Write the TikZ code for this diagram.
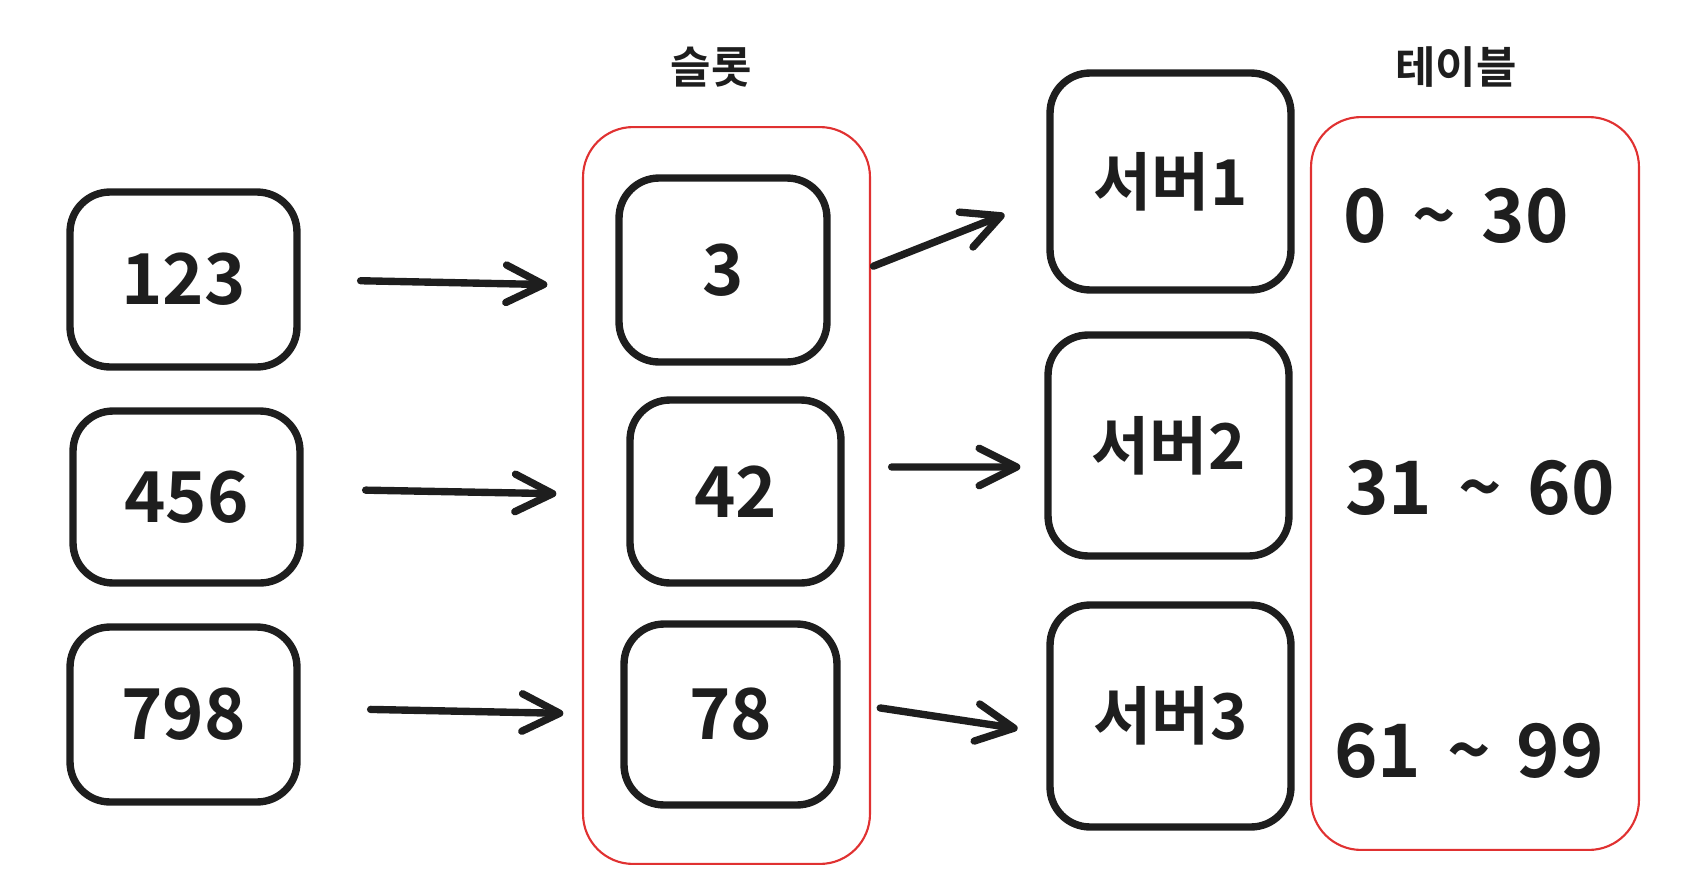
\documentclass[tikz,border=0pt]{standalone}
\usepackage{fontspec}
\setmainfont{Noto Sans CJK KR}[BoldFont={Noto Sans CJK KR Bold}]
\usetikzlibrary{arrows.meta}
\usetikzlibrary{positioning}
\definecolor{ink}{HTML}{1E1E1E}
\definecolor{redline}{HTML}{E03131}

\tikzset{
  box/.style={draw=ink, line width=4.2pt, rounded corners=0.8cm, text=ink},
  frame/.style={draw=redline, line width=1.2pt, rounded corners=1cm},
  num/.style={font=\fontsize{40}{48}\selectfont\bfseries},
  srv/.style={font=\fontsize{36}{42}\selectfont\bfseries},
  caption/.style={text=ink, font=\fontsize{25}{30}\selectfont\bfseries},
  rangetxt/.style={text=ink, font=\fontsize{42}{50}\selectfont\bfseries},
  arr/.style={draw=ink, line width=4.2pt, line cap=round,
    -{Straight Barb[length=0.75cm,width=0.75cm,line cap=round,round]}}
}

\begin{document}
\begin{tikzpicture}[x=0.02cm, y=-0.02cm]
\useasboundingbox (0,0) rectangle (1694,892);

% keys
\node[box, num, minimum width=4.54cm, minimum height=3.5cm] (b123) at (183.5,279.5) {123};
\node[box, num, minimum width=4.54cm, minimum height=3.44cm] (b456) at (186.5,497) {456};
\node[box, num, minimum width=4.54cm, minimum height=3.5cm] (b798) at (183.5,714.5) {798};

% slots
\node[frame, minimum width=5.74cm, minimum height=14.74cm] (slots) at (726.5,495.5) {};
\node[caption] (slotlbl) at (711,67) {슬롯};
\node[box, num, minimum width=4.16cm, minimum height=3.68cm] (s3) at (723,270) {3};
\node[box, num, minimum width=4.22cm, minimum height=3.66cm] (s42) at (735.5,491.5) {42};
\node[box, num, minimum width=4.26cm, minimum height=3.62cm] (s78) at (730.5,714.5) {78};

% servers
\node[box, srv, minimum width=4.82cm, minimum height=4.34cm] (sv1) at (1170.5,181.5) {서버1};
\node[box, srv, minimum width=4.82cm, minimum height=4.42cm] (sv2) at (1168.5,445.5) {서버2};
\node[box, srv, minimum width=4.82cm, minimum height=4.44cm] (sv3) at (1170.5,716) {서버3};

% table
\node[frame, minimum width=6.56cm, minimum height=14.66cm] (table) at (1475,483.5) {};
\node[caption] (tablelbl) at (1456,67) {테이블};
\node[rangetxt] (r1) at (1456,216) {0\hspace{0.35em}\textasciitilde\hspace{0.35em}30};
\node[rangetxt] (r2) at (1480,488) {31\hspace{0.35em}\textasciitilde\hspace{0.35em}60};
\node[rangetxt] (r3) at (1469,751) {61\hspace{0.35em}\textasciitilde\hspace{0.35em}99};

% arrows
\draw[arr, shorten <=1.2cm, shorten >=1.36cm] (b123.east) -- ([yshift=-0.32cm]s3.west);
\draw[arr, shorten <=1.24cm, shorten >=1.4cm] ([yshift=0.16cm]b456.east) -- ([yshift=-0.07cm]s42.west);
\draw[arr, shorten <=1.4cm, shorten >=1.14cm] ([yshift=0.13cm]b798.east) -- (s78.west);
\draw[arr, shorten <=0.92cm, shorten >=0.9cm] ([yshift=-0.26cm]s3.east) -- ([yshift=-0.33cm]sv1.west);
\draw[arr, shorten <=0.94cm, shorten >=0.48cm] ([yshift=0.49cm]s42.east) -- ([yshift=-0.43cm]sv2.west);
\draw[arr, shorten <=0.8cm, shorten >=0.58cm] ([yshift=0.25cm]s78.east) -- ([yshift=-0.34cm]sv3.west);
\end{tikzpicture}
\end{document}
